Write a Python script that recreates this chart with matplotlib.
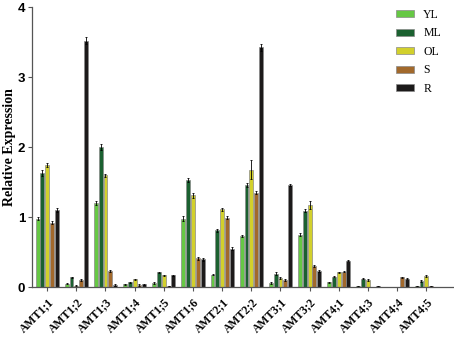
import matplotlib
matplotlib.use("Agg")
import matplotlib.pyplot as plt
import numpy as np

genes = ["AMT1;1", "AMT1;2", "AMT1;3", "AMT1;4", "AMT1;5", "AMT1;6", "AMT2;1",
         "AMT2;2", "AMT3;1", "AMT3;2", "AMT4;1", "AMT4;3", "AMT4;4", "AMT4;5"]
series = ["YL", "ML", "OL", "S", "R"]
YL = [0.98, 0.05, 1.20, 0.04, 0.06, 0.98, 0.18, 0.73, 0.06, 0.75, 0.07, 0.01, 0.00, 0.02]
ML = [1.63, 0.14, 2.00, 0.07, 0.21, 1.53, 0.81, 1.46, 0.19, 1.09, 0.15, 0.12, 0.00, 0.09]
OL = [1.74, 0.02, 1.60, 0.11, 0.17, 1.31, 1.11, 1.68, 0.13, 1.17, 0.21, 0.10, 0.00, 0.16]
S  = [0.92, 0.10, 0.23, 0.03, 0.01, 0.41, 0.99, 1.35, 0.10, 0.30, 0.22, 0.00, 0.14, 0.02]
R  = [1.10, 3.52, 0.03, 0.04, 0.17, 0.40, 0.55, 3.43, 1.46, 0.23, 0.38, 0.02, 0.12, 0.00]
YL_err = [0.02, 0.01, 0.03, 0.01, 0.01, 0.03, 0.01, 0.02, 0.01, 0.02, 0.01, 0.00, 0.00, 0.00]
ML_err = [0.04, 0.01, 0.04, 0.01, 0.01, 0.03, 0.02, 0.03, 0.02, 0.02, 0.01, 0.01, 0.00, 0.01]
OL_err = [0.03, 0.01, 0.02, 0.01, 0.01, 0.04, 0.02, 0.14, 0.01, 0.06, 0.01, 0.01, 0.00, 0.01]
S_err  = [0.02, 0.01, 0.02, 0.01, 0.00, 0.02, 0.02, 0.02, 0.01, 0.01, 0.01, 0.00, 0.01, 0.00]
R_err  = [0.03, 0.05, 0.01, 0.01, 0.01, 0.02, 0.02, 0.05, 0.02, 0.01, 0.01, 0.00, 0.01, 0.00]
yticks = [0, 1, 2, 3, 4]

values = [YL, ML, OL, S, R]
errors = [YL_err, ML_err, OL_err, S_err, R_err]
colors = ["#66c844", "#1b6130", "#d2d02c", "#a2692c", "#1c1a1a"]

W, H = 454, 339
fig = plt.figure(figsize=(W / 100, H / 100), dpi=100)
ax = fig.add_axes([0.0705, 0.153, 0.9295, 0.826])

x = np.arange(len(genes))
pitch = 0.165
width = 0.135
for i, (name, vals, errs, c) in enumerate(zip(series, values, errors, colors)):
    ax.bar(x + (i - 2) * pitch, vals, width=width, color=c, edgecolor="#8a8a8a",
           linewidth=0.5, label=name, yerr=errs, error_kw=dict(ecolor="black", elinewidth=0.6,
           capsize=1.0, capthick=0.6))

ax.set_xlim(-0.52, 13.95)
ax.set_ylim(0, 4)
ax.set_yticks(yticks)
ax.set_yticklabels([str(t) for t in yticks], fontfamily="Liberation Sans",
                   fontweight="bold", fontsize=9.5)
ax.set_xticks(x)
ax.set_xticklabels(genes, rotation=45, ha="right", rotation_mode="anchor",
                   fontfamily="Liberation Serif", fontweight="bold", fontsize=8.5)
ax.tick_params(axis="both", direction="out", length=3, width=0.8, color="#555555")
ax.tick_params(axis="x", pad=3)
ax.tick_params(axis="y", pad=2)
for sp in ["top", "right"]:
    ax.spines[sp].set_visible(False)
for sp in ["left", "bottom"]:
    ax.spines[sp].set_color("#555555")
    ax.spines[sp].set_linewidth(0.9)

ax.set_ylabel("Relative Expression", fontfamily="Liberation Serif", fontweight="bold",
              fontsize=10)
ax.yaxis.set_label_coords(-0.038, 0.5)

leg = fig.legend(*ax.get_legend_handles_labels(), loc="upper left",
                 bbox_to_anchor=(396 / W, 1 - 9 / H), bbox_transform=fig.transFigure,
                 frameon=False, prop=dict(family="Liberation Serif", size=8.5),
                 handlelength=1.55, handleheight=0.55, labelspacing=0.55,
                 handletextpad=0.75, borderpad=0.0, borderaxespad=0.0)

fig.savefig("out.png", dpi=100)
